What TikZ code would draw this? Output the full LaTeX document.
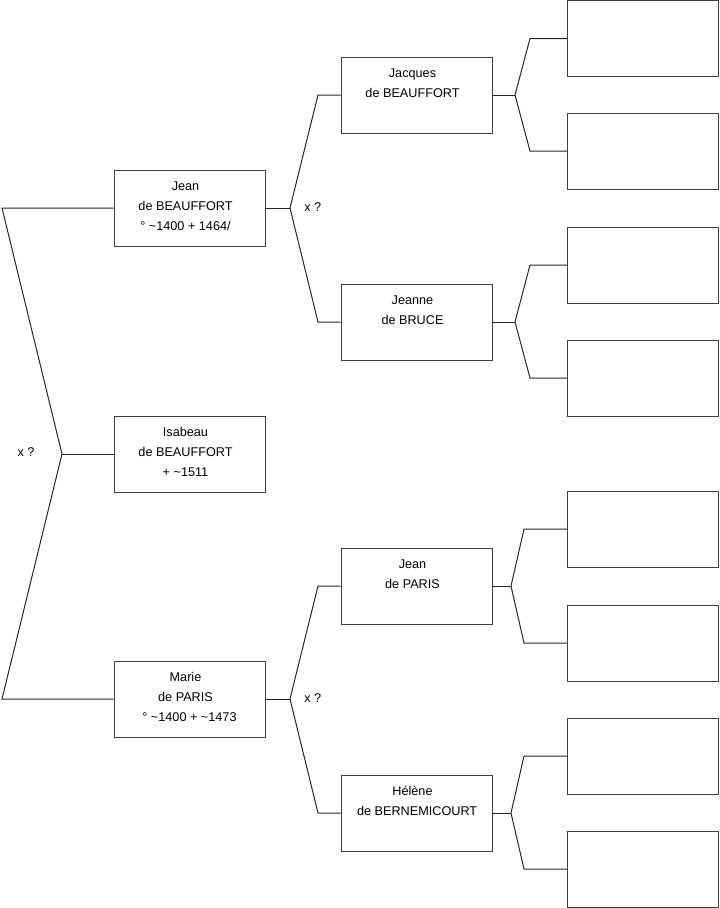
\documentclass[tikz,border=0pt]{standalone}
\usepackage{fontspec}
\setmainfont{Liberation Sans}

\tikzset{
    person/.style={draw=black!75, line width=0.75pt, minimum width=113.25pt, minimum height=57pt, inner sep=0pt},
    who/.style={anchor=north, align=center, inner sep=0pt, xshift=-3pt, yshift=-5.25pt, font=\fontsize{9.5}{15}\selectfont},
    link/.style={line width=0.75pt, black!85},
    union/.style={font=\fontsize{9.5}{15}\selectfont, inner sep=0pt}
}

\begin{document}
\begin{tikzpicture}[x=0.75pt, y=-0.75pt]
    \useasboundingbox (0,0) rectangle (719,908);

    \node[person, label={[who]north:\strut Isabeau\\de BEAUFFORT\\+ \textasciitilde1511}] (isabeau) at (189.5,454) {};

    \node[person, label={[who]north:\strut Jean\\de BEAUFFORT\\\textdegree{} \textasciitilde1400 + 1464/}] (jean) at (189.5,208) {};
    \node[person, label={[who]north:\strut Marie\\de PARIS\\\hspace*{6pt}\textdegree{} \textasciitilde1400 + \textasciitilde1473}] (marie) at (189.5,699) {};

    \node[person, label={[who]north:\strut Jacques\\de BEAUFFORT}] (jacques) at (416.5,95) {};
    \node[person, label={[who]north:\strut Jeanne\\de BRUCE}] (jeanne) at (416.5,322) {};
    \node[person, label={[who]north:\strut Jean\\de PARIS}] (jeanp) at (416.5,586) {};
    \node[person, label={[who]north:\strut Hélène\\\hspace*{7pt}de BERNEMICOURT}] (helene) at (416.5,813) {};

    \node[person] (a1) at (642.75,38.5) {};
    \node[person] (a2) at (642.75,151) {};
    \node[person] (a3) at (642.75,265) {};
    \node[person] (a4) at (642.75,378) {};
    \node[person] (a5) at (642.75,529) {};
    \node[person] (a6) at (642.75,643) {};
    \node[person] (a7) at (642.75,756) {};
    \node[person] (a8) at (642.75,869) {};

    % forks
    \coordinate (f0) at (62,454);
    \coordinate (f0a) at (2,208);
    \coordinate (f0b) at (2,699);
    \draw[link] (isabeau.west) -- (f0);
    \draw[link] (jean.west) -- (f0a) -- (f0) -- (f0b) -- (marie.west);
    \node[union] (u0) at (26,452) {x ?};

    \coordinate (f1) at (290,208);
    \coordinate (f1a) at (318,95);
    \coordinate (f1b) at (318,322);
    \draw[link] (jean.east) -- (f1);
    \draw[link] (jacques.west) -- (f1a) -- (f1) -- (f1b) -- (jeanne.west);
    \node[union, anchor=west] (u1) at (304,207) {x ?};

    \coordinate (f2) at (290,699);
    \coordinate (f2a) at (318,586);
    \coordinate (f2b) at (318,813);
    \draw[link] (marie.east) -- (f2);
    \draw[link] (jeanp.west) -- (f2a) -- (f2) -- (f2b) -- (helene.west);
    \node[union, anchor=west] (u2) at (304,698) {x ?};

    \coordinate (f3) at (515,95);
    \draw[link] (jacques.east) -- (f3);
    \draw[link] (a1.west) -- (530,38.5) -- (f3) -- (530,151) -- (a2.west);

    \coordinate (f4) at (515,322);
    \draw[link] (jeanne.east) -- (f4);
    \draw[link] (a3.west) -- (530,265) -- (f4) -- (530,378) -- (a4.west);

    \coordinate (f5) at (511,586);
    \draw[link] (jeanp.east) -- (f5);
    \draw[link] (a5.west) -- (524,529) -- (f5) -- (524,643) -- (a6.west);

    \coordinate (f6) at (511,813);
    \draw[link] (helene.east) -- (f6);
    \draw[link] (a7.west) -- (524,756) -- (f6) -- (524,869) -- (a8.west);
\end{tikzpicture}
\end{document}
